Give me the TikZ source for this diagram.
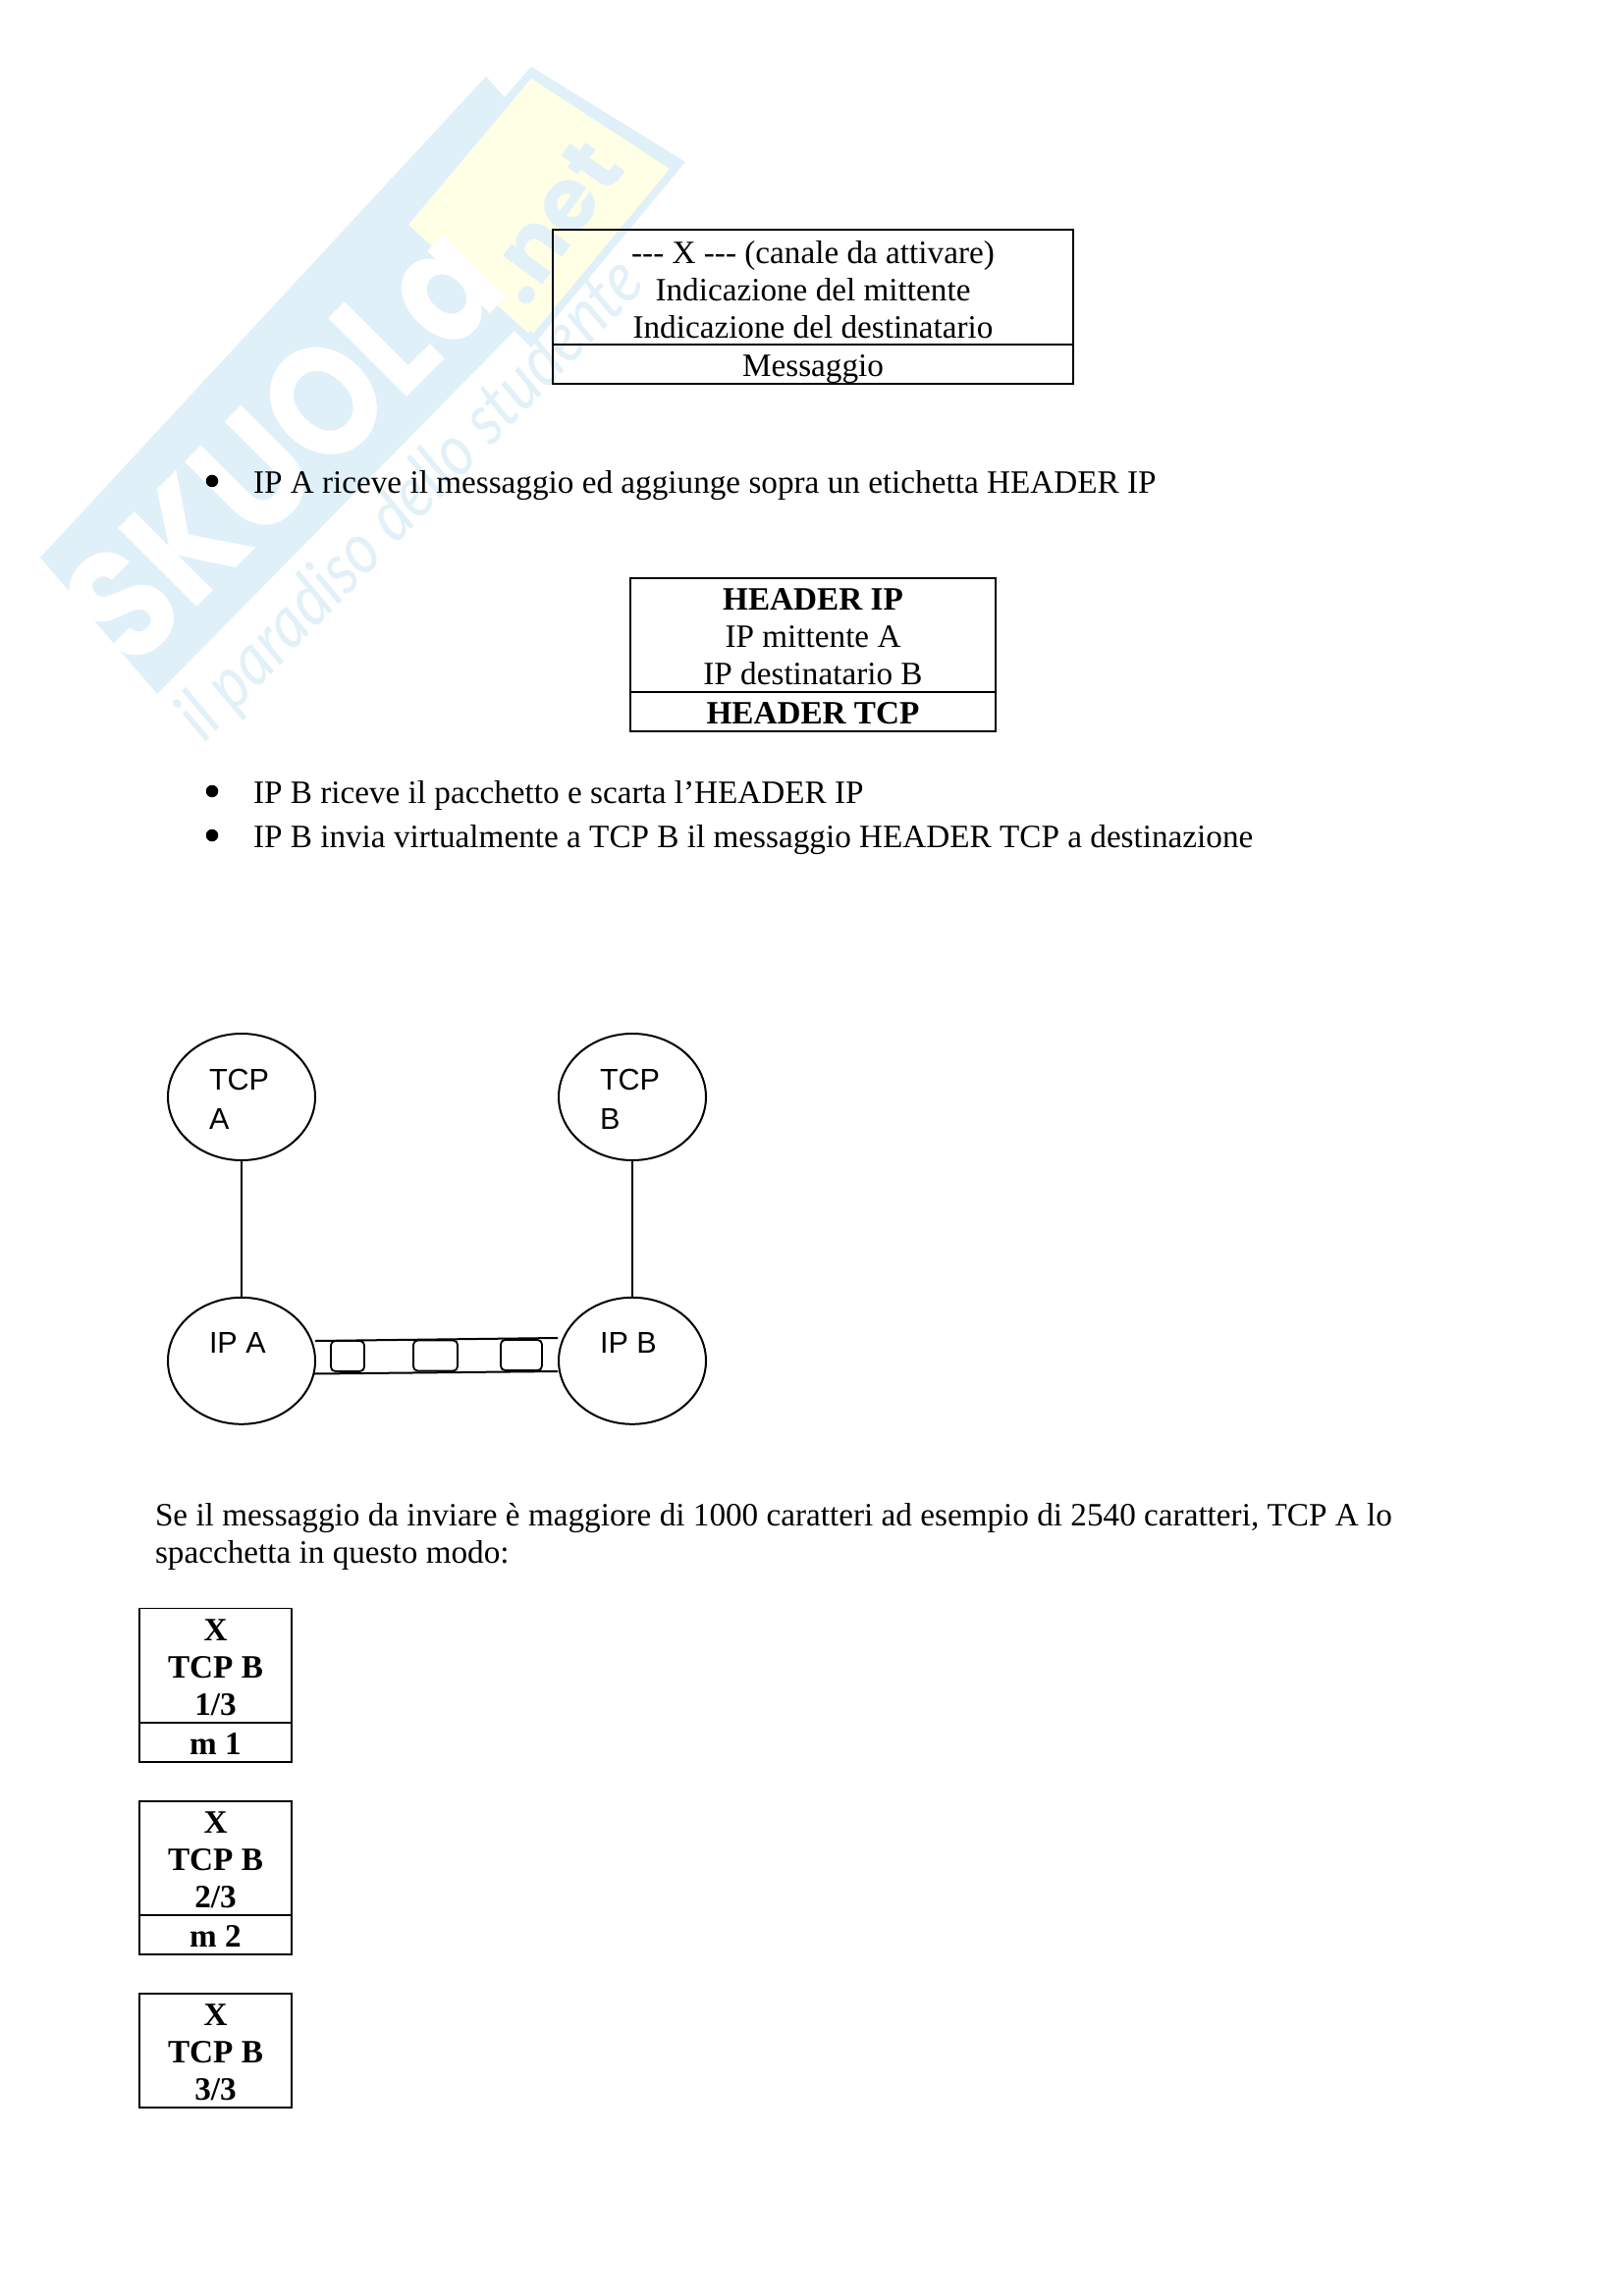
\documentclass[tikz,border=0pt]{standalone}
\usepackage{fontspec}
\setmainfont{Liberation Serif}
\newfontfamily\armfont{Liberation Sans}
\newfontfamily\wmfont{Poppins}
\newfontfamily\wmthin{Lato}
\usetikzlibrary{shapes.geometric}
\newcommand{\fstrut}{\rule{0pt}{9bp}}
\definecolor{wmblue}{HTML}{DFF0F8}
\definecolor{wmyellow}{HTML}{FFFFE6}
\definecolor{wmtext}{HTML}{E2F0F8}
\tikzset{
  x=0.36bp,y=-0.36bp,
  every node/.style={inner sep=0pt,outer sep=0pt,font=\fontsize{12pt}{13.68bp}\selectfont},
  cellbox/.style n args={2}{draw=black,line width=0.55bp,anchor=north west,align=center,
     minimum width=#1*0.36bp,minimum height=#2*0.36bp},
  lowcell/.style n args={2}{draw=black,line width=0.55bp,anchor=north west,
     minimum width=#1*0.36bp,minimum height=#2*0.36bp,text height=9bp,text depth=0.3bp},
  proc/.style={ellipse,draw=black,line width=0.72bp,minimum width=150*0.36bp,minimum height=129*0.36bp},
  arm/.style={anchor=north west,align=left,font=\armfont\fontsize{11bp}{14.4bp}\selectfont},
  para/.style={anchor=north west,align=left},
  bul/.style={circle,fill=black,minimum size=4.5bp},
  pkt/.style n args={2}{draw=black,line width=0.65bp,rounded corners=1.6bp,anchor=north west,
     minimum width=#1*0.36bp,minimum height=#2*0.36bp},
  wire/.style={draw=black,line width=0.72bp},
}
\begin{document}
\begin{tikzpicture}
\useasboundingbox (0,0) rectangle (1653,2339);
\fill[white] (0,0) rectangle (1653,2339);
% watermark
\fill[wmblue] (41,568) -- (495,78) -- (514,99) -- (541,68) -- (698,165) -- (541,354) -- (524,337) -- (160,707) -- cycle;
\fill[wmyellow] (541,80) -- (682,172) -- (541,342) -- (416,229) -- cycle;
\node[rotate=45,text=white,font=\wmfont\bfseries\fontsize{58bp}{58bp}\selectfont] (wmmain) at (288,451) {\scalebox{.86}[1]{SKUOLa}};
\node[rotate=54,text=wmtext,font=\wmfont\bfseries\fontsize{32bp}{32bp}\selectfont] (wmnet) at (562,226) {.net};
\node[rotate=46,text=wmtext,font=\wmthin\itshape\fontsize{26bp}{26bp}\selectfont] (wmsub) at (419,510) {\scalebox{.87}[1]{il paradiso dello studente}};

% top box
\node[cellbox={530}{117}] (msgtop) at (563,234) {\rule{0pt}{10bp}-{}-{}- X -{}-{}- (canale da attivare)\\Indicazione del mittente\\Indicazione del destinatario};
\node[lowcell={530}{40}] (msgbot) at (563,351) {Messaggio};

\node[bul] (b1) at (216,490) {};
\node[para] (t1) at (258,478) {\fstrut IP A riceve il messaggio ed aggiunge sopra un etichetta HEADER IP};

% header box
\node[cellbox={372}{116}] (hdrtop) at (642,589) {\fstrut\textbf{HEADER IP}\\IP mittente A\\IP destinatario B};
\node[lowcell={372}{40}] (hdrbot) at (642,705) {\textbf{HEADER TCP}};

\node[bul] (b2) at (216,806) {};
\node[para] (t2) at (258,793) {\fstrut IP B riceve il pacchetto e scarta l’HEADER IP};
\node[bul] (b3) at (216,851) {};
\node[para] (t3) at (258,838) {\fstrut IP B invia virtualmente a TCP B il messaggio HEADER TCP a destinazione};

% network
\node[proc] (tcpa) at (246,1117.5) {};
\node[proc] (tcpb) at (644,1117.5) {};
\node[proc] (ipa) at (246,1386.3) {};
\node[proc] (ipb) at (644,1386.3) {};
\node[arm] (ltcpa) at (213,1085) {\fstrut TCP\\A};
\node[arm] (ltcpb) at (611,1085) {\fstrut TCP\\B};
\node[arm] (lipa) at (213,1353) {\fstrut IP A};
\node[arm] (lipb) at (611,1353) {\fstrut IP B};
\draw[wire] (tcpa.south) -- (ipa.north);
\draw[wire] (tcpb.south) -- (ipb.north);
\coordinate (ctl) at (321,1366);
\coordinate (ctr) at (568,1363);
\coordinate (cbl) at (320,1399.5);
\coordinate (cbr) at (568,1397);
\draw[wire] (ctl) -- (ctr);
\draw[wire] (cbl) -- (cbr);
\node[pkt={34}{31}] (p1) at (337,1366) {};
\node[pkt={45}{31}] (p2) at (421,1365.5) {};
\node[pkt={42}{31}] (p3) at (510,1365) {};

\node[para] (t4) at (158,1529) {\fstrut Se il messaggio da inviare è maggiore di 1000 caratteri ad esempio di 2540 caratteri, TCP A lo\\spacchetta in questo modo:};

% fragments
\node[cellbox={155}{116.5}] (f1top) at (142,1638.5) {\fstrut\textbf{X}\\\textbf{TCP B}\\\textbf{1/3}};
\node[lowcell={155}{40}] (f1bot) at (142,1755) {\textbf{m 1}};
\node[cellbox={155}{116}] (f2top) at (142,1835) {\fstrut\textbf{X}\\\textbf{TCP B}\\\textbf{2/3}};
\node[lowcell={155}{40}] (f2bot) at (142,1951) {\textbf{m 2}};
\node[cellbox={155}{116}] (f3top) at (142,2031) {\fstrut\textbf{X}\\\textbf{TCP B}\\\textbf{3/3}};
\end{tikzpicture}
\end{document}
